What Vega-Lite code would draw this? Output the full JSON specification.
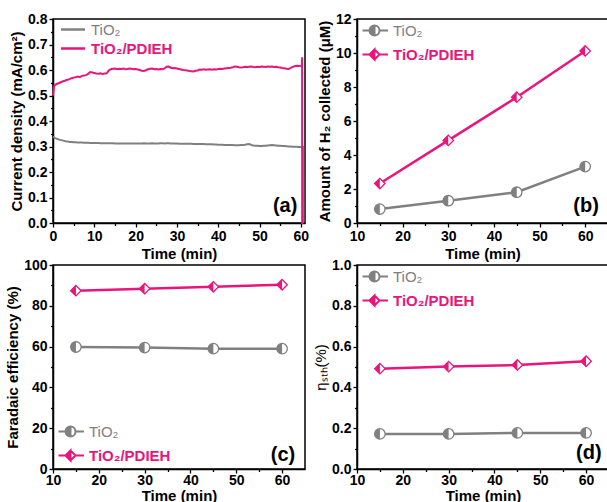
{
  "$schema": "https://vega.github.io/schema/vega-lite/v6.json",
  "padding": {"left": 4, "top": 11, "right": 0, "bottom": 0},
  "autosize": {"type": "pad"},
  "bounds": "flush",
  "columns": 2,
  "spacing": {"row": 42, "column": 52},
  "config": {
    "font": "Liberation Sans",
    "view": {"stroke": "#000", "strokeWidth": 1.5},
    "axis": {"domainColor": "#000", "domainWidth": 1.5, "tickColor": "#000", "tickWidth": 1.3, "tickSize": 4, "labelPadding": 2, "labelFont": "Liberation Sans", "labelFontSize": 14, "labelFontWeight": "bold", "labelColor": "#000", "titleFont": "Liberation Sans", "titleFontSize": 15, "titleFontWeight": "bold", "titleColor": "#000", "grid": false, "titlePadding": 3, "labelFlush": false, "labelOverlap": false},
    "legend": {"labelFont": "Liberation Sans", "labelFontSize": 15, "title": null, "padding": 0}
  },
  "concat": [
        {
          "width": 252, "height": 204,
          "data": {"values": [
            {"t":0,"p":0.50,"g":0.338},{"t":0.25,"p":0.535,"g":0.336},{"t":0.5,"p":0.542,"g":0.333},{"t":1,"p":0.546,"g":0.330},{"t":1.5,"p":0.549,"g":0.327},{"t":2,"p":0.553,"g":0.325},{"t":2.5,"p":0.556,"g":0.323},{"t":3,"p":0.559,"g":0.321},{"t":3.5,"p":0.562,"g":0.320},{"t":4,"p":0.564,"g":0.318},{"t":4.5,"p":0.568,"g":0.318},{"t":5,"p":0.570,"g":0.317},{"t":5.5,"p":0.572,"g":0.317},{"t":6,"p":0.574,"g":0.316},{"t":6.5,"p":0.572,"g":0.316},{"t":7,"p":0.577,"g":0.316},{"t":7.5,"p":0.578,"g":0.315},{"t":8,"p":0.580,"g":0.315},{"t":8.5,"p":0.585,"g":0.315},{"t":9,"p":0.592,"g":0.314},{"t":9.5,"p":0.590,"g":0.314},{"t":10,"p":0.588,"g":0.314},{"t":10.5,"p":0.586,"g":0.314},{"t":11,"p":0.585,"g":0.314},{"t":11.5,"p":0.587,"g":0.313},{"t":12,"p":0.584,"g":0.313},{"t":12.5,"p":0.586,"g":0.313},{"t":13,"p":0.587,"g":0.313},{"t":13.5,"p":0.598,"g":0.313},{"t":14,"p":0.603,"g":0.313},{"t":14.5,"p":0.605,"g":0.313},{"t":15,"p":0.606,"g":0.312},{"t":15.5,"p":0.603,"g":0.312},{"t":16,"p":0.605,"g":0.312},{"t":16.5,"p":0.604,"g":0.312},{"t":17,"p":0.606,"g":0.312},{"t":17.5,"p":0.603,"g":0.312},{"t":18,"p":0.604,"g":0.312},{"t":18.5,"p":0.606,"g":0.312},{"t":19,"p":0.605,"g":0.312},{"t":19.5,"p":0.603,"g":0.312},{"t":20,"p":0.604,"g":0.312},{"t":20.5,"p":0.602,"g":0.312},{"t":21,"p":0.600,"g":0.312},{"t":21.5,"p":0.597,"g":0.312},{"t":22,"p":0.596,"g":0.313},{"t":22.5,"p":0.599,"g":0.312},{"t":23,"p":0.603,"g":0.312},{"t":23.5,"p":0.605,"g":0.312},{"t":24,"p":0.606,"g":0.313},{"t":24.5,"p":0.603,"g":0.312},{"t":25,"p":0.604,"g":0.312},{"t":25.5,"p":0.602,"g":0.312},{"t":26,"p":0.604,"g":0.313},{"t":26.5,"p":0.603,"g":0.313},{"t":27,"p":0.606,"g":0.312},{"t":27.5,"p":0.613,"g":0.313},{"t":28,"p":0.614,"g":0.313},{"t":28.5,"p":0.609,"g":0.312},{"t":29,"p":0.607,"g":0.312},{"t":29.5,"p":0.608,"g":0.312},{"t":30,"p":0.606,"g":0.312},{"t":30.5,"p":0.604,"g":0.311},{"t":31,"p":0.602,"g":0.311},{"t":31.5,"p":0.600,"g":0.311},{"t":32,"p":0.599,"g":0.311},{"t":32.5,"p":0.598,"g":0.311},{"t":33,"p":0.596,"g":0.311},{"t":33.5,"p":0.595,"g":0.311},{"t":34,"p":0.594,"g":0.310},{"t":34.5,"p":0.597,"g":0.310},{"t":35,"p":0.598,"g":0.310},{"t":35.5,"p":0.602,"g":0.310},{"t":36,"p":0.601,"g":0.310},{"t":36.5,"p":0.603,"g":0.310},{"t":37,"p":0.601,"g":0.309},{"t":37.5,"p":0.602,"g":0.309},{"t":38,"p":0.603,"g":0.309},{"t":38.5,"p":0.601,"g":0.309},{"t":39,"p":0.603,"g":0.308},{"t":39.5,"p":0.602,"g":0.308},{"t":40,"p":0.604,"g":0.307},{"t":40.5,"p":0.605,"g":0.307},{"t":41,"p":0.604,"g":0.307},{"t":41.5,"p":0.606,"g":0.306},{"t":42,"p":0.607,"g":0.306},{"t":42.5,"p":0.608,"g":0.306},{"t":43,"p":0.609,"g":0.306},{"t":43.5,"p":0.611,"g":0.306},{"t":44,"p":0.614,"g":0.305},{"t":44.5,"p":0.613,"g":0.305},{"t":45,"p":0.611,"g":0.305},{"t":45.5,"p":0.610,"g":0.306},{"t":46,"p":0.611,"g":0.306},{"t":46.5,"p":0.613,"g":0.307},{"t":47,"p":0.612,"g":0.309},{"t":47.5,"p":0.613,"g":0.310},{"t":48,"p":0.614,"g":0.306},{"t":48.5,"p":0.612,"g":0.304},{"t":49,"p":0.611,"g":0.303},{"t":49.5,"p":0.613,"g":0.303},{"t":50,"p":0.612,"g":0.302},{"t":50.5,"p":0.614,"g":0.302},{"t":51,"p":0.613,"g":0.303},{"t":51.5,"p":0.612,"g":0.303},{"t":52,"p":0.614,"g":0.304},{"t":52.5,"p":0.613,"g":0.305},{"t":53,"p":0.614,"g":0.306},{"t":53.5,"p":0.612,"g":0.305},{"t":54,"p":0.613,"g":0.304},{"t":54.5,"p":0.611,"g":0.303},{"t":55,"p":0.610,"g":0.303},{"t":55.5,"p":0.608,"g":0.302},{"t":56,"p":0.607,"g":0.302},{"t":56.5,"p":0.605,"g":0.301},{"t":57,"p":0.604,"g":0.300},{"t":57.5,"p":0.607,"g":0.300},{"t":58,"p":0.612,"g":0.299},{"t":58.5,"p":0.615,"g":0.299},{"t":59,"p":0.617,"g":0.299},{"t":59.5,"p":0.616,"g":0.298},{"t":60,"p":0.617,"g":0.298},{"t":60.25,"p":0.618,"g":0.298},{"t":60.3,"p":0.65,"g":0.298},{"t":60.32,"p":0.0,"g":0.298},{"t":60.55,"p":0.0,"g":0.298},{"t":60.57,"p":0.0,"g":0.0}
          ]},
          "transform": [{"fold": ["g", "p"], "as": ["s", "v"]}],
          "resolve": {"axis": {"x": "independent", "y": "independent"}},
          "layer": [
            {
              "mark": {"type": "line", "strokeWidth": 2},
              "encoding": {
                "x": {"field": "t", "type": "quantitative", "scale": {"domain": [0, 61], "nice": false}, "axis": {"orient": "bottom", "values": [0,10,20,30,40,50,60], "title": "Time (min)"}},
                "y": {"field": "v", "type": "quantitative", "scale": {"domain": [0, 0.8], "nice": false}, "axis": {"orient": "left", "values": [0,0.1,0.2,0.3,0.4,0.5,0.6,0.7,0.8], "format": ".1f", "title": "Current density (mA/cm²)"}},
                "color": {"field": "s", "type": "nominal", "scale": {"domain": ["g", "p"], "range": ["#808080", "#e8157c"]},
                  "legend": {"orient": "top-left", "offset": 3, "symbolType": "M-1,0H8.6", "symbolSize": 25, "symbolStrokeWidth": 2.5, "labelOffset": 20, "rowPadding": 3,
                    "labelExpr": "datum.value == 'g' ? 'TiO₂' : 'TiO₂/PDIEH'",
                    "labelColor": {"expr": "datum.value == 'g' ? '#808080' : '#e8157c'"},
                    "labelFontWeight": {"expr": "datum.value == 'g' ? 'normal' : 'bold'"}}}
              }
            },
            {
              "data": {"values": [{"label": "(a)"}]},
              "mark": {"type": "text", "fontSize": 20, "fontWeight": "bold", "color": "#000"},
              "encoding": {
                "text": {"field": "label"},
                "x": {"datum": 56.2, "type": "quantitative", "axis": {"orient": "bottom", "values": [5,15,25,35,45,55], "labels": false, "domain": false, "tickSize": 2.5, "title": null}},
                "y": {"datum": 0.067, "type": "quantitative", "axis": {"orient": "left", "values": [0.05,0.15,0.25,0.35,0.45,0.55,0.65,0.75], "labels": false, "domain": false, "tickSize": 2.5, "title": null}}
              }
            }
          ]
        },
        {
          "width": 251, "height": 204,
          "data": {"values": [
            {"t":15,"v":0.82,"s":"g"},{"t":30,"v":1.31,"s":"g"},{"t":45,"v":1.81,"s":"g"},{"t":60,"v":3.32,"s":"g"},
            {"t":15,"v":2.32,"s":"p"},{"t":30,"v":4.86,"s":"p"},{"t":45,"v":7.40,"s":"p"},{"t":60,"v":10.12,"s":"p"}
          ]},
          "resolve": {"axis": {"x": "independent", "y": "independent"}, "scale": {"shape": "independent"}},
          "layer": [
            {
              "mark": {"type": "line", "strokeWidth": 2.5},
              "encoding": {
                "x": {"field": "t", "type": "quantitative", "scale": {"domain": [10, 65], "nice": false, "zero": false}, "axis": {"orient": "bottom", "values": [10,20,30,40,50,60], "title": "Time (min)"}},
                "y": {"field": "v", "type": "quantitative", "scale": {"domain": [0, 12], "nice": false}, "axis": {"orient": "left", "values": [0,2,4,6,8,10,12], "title": "Amount of H₂ collected (μM)"}},
                "color": {"field": "s", "type": "nominal", "scale": {"domain": ["g", "p"], "range": ["#808080", "#e8157c"]},
                  "legend": {"orient": "top-left", "offset": 4, "symbolType": {"expr": "datum.value == 'g' ? 'M-1.2,0H0.2 M1.2,-1 A1,1 0 0,0 1.2,1 Z M1.2,-1 A1,1 0 0,1 1.2,1 A1,1 0 0,0 1.2,-1 M2.2,0H3.9' : 'M-1.2,0H0.2 M1.2,-1 L0.2,0 L1.2,1 Z M1.2,-1 L2.2,0 L1.2,1 L2.2,0 Z M2.2,0H3.9'"}, "symbolSize": 100, "symbolStrokeWidth": 2, "labelOffset": 17, "rowPadding": 5,
                    "labelExpr": "datum.value == 'g' ? 'TiO₂' : 'TiO₂/PDIEH'",
                    "symbolFillColor": {"expr": "datum.value == 'g' ? '#808080' : '#e8157c'"},
                    "labelColor": {"expr": "datum.value == 'g' ? '#808080' : '#e8157c'"},
                    "labelFontWeight": {"expr": "datum.value == 'g' ? 'normal' : 'bold'"}}}
              }
            },
            {
              "mark": {"type": "point", "filled": true, "fill": "white", "size": 110, "strokeWidth": 1.3, "opacity": 1},
              "encoding": {
                "x": {"field": "t", "type": "quantitative", "axis": null},
                "y": {"field": "v", "type": "quantitative", "axis": null},
                "stroke": {"field": "s", "type": "nominal", "scale": {"domain": ["g", "p"], "range": ["#808080", "#e8157c"]}, "legend": null},
                "shape": {"field": "s", "type": "nominal", "scale": {"domain": ["g", "p"], "range": ["circle", "diamond"]}, "legend": null}
              }
            },
            {
              "mark": {"type": "point", "filled": true, "size": 110, "strokeWidth": 0, "opacity": 1},
              "encoding": {
                "x": {"field": "t", "type": "quantitative", "axis": null},
                "y": {"field": "v", "type": "quantitative", "axis": null},
                "color": {"field": "s", "type": "nominal", "legend": null},
                "shape": {"field": "s", "type": "nominal", "scale": {"domain": ["g", "p"], "range": ["M0,-1 A1,1 0 0,0 0,1 Z", "M0,-1 L-1,0 L0,1 Z"]}, "legend": null}
              }
            },
            {
              "data": {"values": [{"label": "(b)"}]},
              "mark": {"type": "text", "fontSize": 20, "fontWeight": "bold", "color": "#000"},
              "encoding": {
                "text": {"field": "label"},
                "x": {"datum": 60.2, "type": "quantitative", "axis": {"orient": "bottom", "values": [15,25,35,45,55], "labels": false, "domain": false, "tickSize": 2.5, "title": null}},
                "y": {"datum": 1.0, "type": "quantitative", "axis": {"orient": "left", "values": [1,3,5,7,9,11], "labels": false, "domain": false, "tickSize": 2.5, "title": null}}
              }
            }
          ]
        },
        {
          "width": 252, "height": 204,
          "data": {"values": [
            {"t":15,"v":59.8,"s":"g"},{"t":30,"v":59.5,"s":"g"},{"t":45,"v":59.0,"s":"g"},{"t":60,"v":59.0,"s":"g"},
            {"t":15,"v":87.4,"s":"p"},{"t":30,"v":88.4,"s":"p"},{"t":45,"v":89.3,"s":"p"},{"t":60,"v":90.3,"s":"p"}
          ]},
          "resolve": {"axis": {"x": "independent", "y": "independent"}, "scale": {"shape": "independent"}},
          "layer": [
            {
              "mark": {"type": "line", "strokeWidth": 2.5},
              "encoding": {
                "x": {"field": "t", "type": "quantitative", "scale": {"domain": [10, 65], "nice": false, "zero": false}, "axis": {"orient": "bottom", "values": [10,20,30,40,50,60], "title": "Time (min)", "labelPadding": 0, "titlePadding": 1}},
                "y": {"field": "v", "type": "quantitative", "scale": {"domain": [0, 100], "nice": false}, "axis": {"orient": "left", "values": [0,20,40,60,80,100], "title": "Faradaic efficiency (%)"}},
                "color": {"field": "s", "type": "nominal", "scale": {"domain": ["g", "p"], "range": ["#808080", "#e8157c"]},
                  "legend": {"orient": "bottom-left", "offset": 4, "symbolType": {"expr": "datum.value == 'g' ? 'M-1.2,0H0.2 M1.2,-1 A1,1 0 0,0 1.2,1 Z M1.2,-1 A1,1 0 0,1 1.2,1 A1,1 0 0,0 1.2,-1 M2.2,0H3.9' : 'M-1.2,0H0.2 M1.2,-1 L0.2,0 L1.2,1 Z M1.2,-1 L2.2,0 L1.2,1 L2.2,0 Z M2.2,0H3.9'"}, "symbolSize": 100, "symbolStrokeWidth": 2, "labelOffset": 17, "rowPadding": 5,
                    "labelExpr": "datum.value == 'g' ? 'TiO₂' : 'TiO₂/PDIEH'",
                    "symbolFillColor": {"expr": "datum.value == 'g' ? '#808080' : '#e8157c'"},
                    "labelColor": {"expr": "datum.value == 'g' ? '#808080' : '#e8157c'"},
                    "labelFontWeight": {"expr": "datum.value == 'g' ? 'normal' : 'bold'"}}}
              }
            },
            {
              "mark": {"type": "point", "filled": true, "fill": "white", "size": 110, "strokeWidth": 1.3, "opacity": 1},
              "encoding": {
                "x": {"field": "t", "type": "quantitative", "axis": null},
                "y": {"field": "v", "type": "quantitative", "axis": null},
                "stroke": {"field": "s", "type": "nominal", "scale": {"domain": ["g", "p"], "range": ["#808080", "#e8157c"]}, "legend": null},
                "shape": {"field": "s", "type": "nominal", "scale": {"domain": ["g", "p"], "range": ["circle", "diamond"]}, "legend": null}
              }
            },
            {
              "mark": {"type": "point", "filled": true, "size": 110, "strokeWidth": 0, "opacity": 1},
              "encoding": {
                "x": {"field": "t", "type": "quantitative", "axis": null},
                "y": {"field": "v", "type": "quantitative", "axis": null},
                "color": {"field": "s", "type": "nominal", "legend": null},
                "shape": {"field": "s", "type": "nominal", "scale": {"domain": ["g", "p"], "range": ["M0,-1 A1,1 0 0,0 0,1 Z", "M0,-1 L-1,0 L0,1 Z"]}, "legend": null}
              }
            },
            {
              "data": {"values": [{"label": "(c)"}]},
              "mark": {"type": "text", "fontSize": 20, "fontWeight": "bold", "color": "#000"},
              "encoding": {
                "text": {"field": "label"},
                "x": {"datum": 60.2, "type": "quantitative", "axis": {"orient": "bottom", "values": [15,25,35,45,55], "labels": false, "domain": false, "tickSize": 2.5, "title": null}},
                "y": {"datum": 7.1, "type": "quantitative", "axis": {"orient": "left", "values": [10,30,50,70,90], "labels": false, "domain": false, "tickSize": 2.5, "title": null}}
              }
            }
          ]
        },
        {
          "width": 252, "height": 204,
          "data": {"values": [
            {"t":15,"v":0.172,"s":"g"},{"t":30,"v":0.172,"s":"g"},{"t":45,"v":0.177,"s":"g"},{"t":60,"v":0.177,"s":"g"},
            {"t":15,"v":0.492,"s":"p"},{"t":30,"v":0.502,"s":"p"},{"t":45,"v":0.51,"s":"p"},{"t":60,"v":0.528,"s":"p"}
          ]},
          "resolve": {"axis": {"x": "independent", "y": "independent"}, "scale": {"shape": "independent"}},
          "layer": [
            {
              "mark": {"type": "line", "strokeWidth": 2.5},
              "encoding": {
                "x": {"field": "t", "type": "quantitative", "scale": {"domain": [10, 65], "nice": false, "zero": false}, "axis": {"orient": "bottom", "values": [10,20,30,40,50,60], "title": "Time (min)", "labelPadding": 0, "titlePadding": 1}},
                "y": {"field": "v", "type": "quantitative", "scale": {"domain": [0, 1], "nice": false}, "axis": {"orient": "left", "values": [0,0.2,0.4,0.6,0.8,1.0], "format": ".1f", "title": "ηₛₜₕ(%)", "titleFontWeight": "normal"}},
                "color": {"field": "s", "type": "nominal", "scale": {"domain": ["g", "p"], "range": ["#808080", "#e8157c"]},
                  "legend": {"orient": "top-left", "offset": 4, "symbolType": {"expr": "datum.value == 'g' ? 'M-1.2,0H0.2 M1.2,-1 A1,1 0 0,0 1.2,1 Z M1.2,-1 A1,1 0 0,1 1.2,1 A1,1 0 0,0 1.2,-1 M2.2,0H3.9' : 'M-1.2,0H0.2 M1.2,-1 L0.2,0 L1.2,1 Z M1.2,-1 L2.2,0 L1.2,1 L2.2,0 Z M2.2,0H3.9'"}, "symbolSize": 100, "symbolStrokeWidth": 2, "labelOffset": 17, "rowPadding": 5,
                    "labelExpr": "datum.value == 'g' ? 'TiO₂' : 'TiO₂/PDIEH'",
                    "symbolFillColor": {"expr": "datum.value == 'g' ? '#808080' : '#e8157c'"},
                    "labelColor": {"expr": "datum.value == 'g' ? '#808080' : '#e8157c'"},
                    "labelFontWeight": {"expr": "datum.value == 'g' ? 'normal' : 'bold'"}}}
              }
            },
            {
              "mark": {"type": "point", "filled": true, "fill": "white", "size": 110, "strokeWidth": 1.3, "opacity": 1},
              "encoding": {
                "x": {"field": "t", "type": "quantitative", "axis": null},
                "y": {"field": "v", "type": "quantitative", "axis": null},
                "stroke": {"field": "s", "type": "nominal", "scale": {"domain": ["g", "p"], "range": ["#808080", "#e8157c"]}, "legend": null},
                "shape": {"field": "s", "type": "nominal", "scale": {"domain": ["g", "p"], "range": ["circle", "diamond"]}, "legend": null}
              }
            },
            {
              "mark": {"type": "point", "filled": true, "size": 110, "strokeWidth": 0, "opacity": 1},
              "encoding": {
                "x": {"field": "t", "type": "quantitative", "axis": null},
                "y": {"field": "v", "type": "quantitative", "axis": null},
                "color": {"field": "s", "type": "nominal", "legend": null},
                "shape": {"field": "s", "type": "nominal", "scale": {"domain": ["g", "p"], "range": ["M0,-1 A1,1 0 0,0 0,1 Z", "M0,-1 L-1,0 L0,1 Z"]}, "legend": null}
              }
            },
            {
              "data": {"values": [{"label": "(d)"}]},
              "mark": {"type": "text", "fontSize": 20, "fontWeight": "bold", "color": "#000"},
              "encoding": {
                "text": {"field": "label"},
                "x": {"datum": 60.6, "type": "quantitative", "axis": {"orient": "bottom", "values": [15,25,35,45,55], "labels": false, "domain": false, "tickSize": 2.5, "title": null}},
                "y": {"datum": 0.079, "type": "quantitative", "axis": {"orient": "left", "values": [0.1,0.3,0.5,0.7,0.9], "labels": false, "domain": false, "tickSize": 2.5, "title": null}}
              }
            }
          ]
        }
  ]
}
